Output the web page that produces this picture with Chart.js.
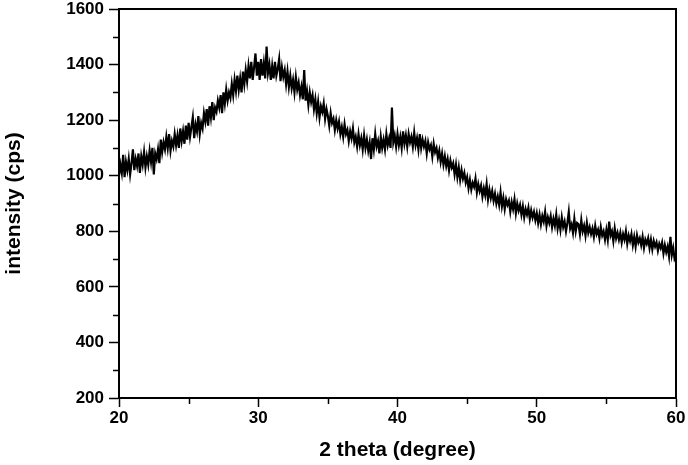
<!DOCTYPE html>
<html>
<head>
<meta charset="utf-8">
<script src="https://cdn.jsdelivr.net/npm/chart.js@4/dist/chart.umd.min.js"></script>
<style>
  body { margin: 0; background: #fff; }
</style>
</head>
<body>
<canvas id="xrd" width="688" height="465"></canvas>
<script>
// 2 theta grid: 20.0 .. 60.0, one reading every 0.1 degree
var thetaStart = 20;
var thetaStep = 0.1;

// intensity (cps), one row per degree
var intensity = [
  1000, 1040, 1010, 1075, 995, 1050, 1020, 1060, 1005, 1045,   // 20
  1095, 1020, 1060, 1035, 1080, 1010, 1070, 1040, 1085, 1030,  // 21
  1070, 1040, 1090, 1050, 1100, 1005, 1080, 1060, 1095, 1045,  // 22
  1130, 1085, 1120, 1095, 1140, 1100, 1150, 1090, 1125, 1105,  // 23
  1150, 1110, 1145, 1100, 1170, 1125, 1160, 1115, 1180, 1130,  // 24
  1190, 1140, 1175, 1210, 1135, 1185, 1160, 1215, 1150, 1190,  // 25
  1170, 1225, 1195, 1240, 1180, 1250, 1210, 1265, 1200, 1245,  // 26
  1230, 1270, 1245, 1290, 1225, 1300, 1260, 1310, 1270, 1300,  // 27
  1280, 1330, 1290, 1345, 1305, 1360, 1310, 1350, 1300, 1375,  // 28
  1330, 1380, 1340, 1395, 1350, 1410, 1345, 1390, 1440, 1360,  // 29
  1410, 1345, 1420, 1360, 1405, 1350, 1465, 1370, 1400, 1345,  // 30
  1395, 1350, 1410, 1360, 1385, 1420, 1340, 1390, 1355, 1380,  // 31
  1330, 1375, 1320, 1360, 1315, 1345, 1300, 1355, 1310, 1335,  // 32
  1290, 1320, 1275, 1380, 1270, 1305, 1255, 1300, 1265, 1290,  // 33
  1240, 1275, 1225, 1265, 1210, 1250, 1230, 1260, 1205, 1240,  // 34
  1215, 1180, 1225, 1190, 1205, 1165, 1200, 1170, 1195, 1150,  // 35
  1175, 1140, 1185, 1150, 1165, 1125, 1160, 1135, 1170, 1120,  // 36
  1140, 1105, 1150, 1110, 1135, 1095, 1145, 1100, 1130, 1090,  // 37
  1120, 1060, 1135, 1095, 1150, 1105, 1125, 1080, 1140, 1100,  // 38
  1130, 1095, 1150, 1110, 1135, 1100, 1245, 1120, 1145, 1105,  // 39
  1150, 1110, 1140, 1100, 1160, 1115, 1145, 1105, 1150, 1120,  // 40
  1140, 1105, 1155, 1110, 1135, 1095, 1150, 1100, 1130, 1105,  // 41
  1125, 1080, 1120, 1095, 1110, 1070, 1115, 1085, 1100, 1065,  // 42
  1090, 1050, 1080, 1040, 1070, 1035, 1060, 1020, 1055, 1030,  // 43
  1045, 1005, 1040, 995, 1030, 985, 1020, 990, 1010, 975,      // 44
  995, 955, 985, 950, 975, 960, 990, 940, 970, 945,            // 45
  965, 925, 955, 930, 970, 915, 950, 920, 945, 910,            // 46
  935, 900, 925, 895, 940, 890, 920, 880, 915, 895,            // 47
  910, 870, 905, 880, 915, 865, 900, 875, 895, 860,            // 48
  890, 850, 880, 860, 885, 845, 875, 850, 870, 840,            // 49
  865, 830, 860, 825, 855, 835, 870, 820, 850, 830,            // 50
  855, 815, 845, 820, 860, 810, 840, 805, 850, 815,            // 51
  835, 800, 830, 870, 810, 825, 795, 845, 800, 830,            // 52
  825, 790, 840, 800, 820, 785, 830, 795, 815, 790,            // 53
  810, 780, 820, 790, 805, 775, 815, 785, 800, 770,            // 54
  805, 770, 835, 785, 800, 765, 810, 775, 795, 770,            // 55
  795, 760, 790, 770, 800, 755, 785, 765, 790, 750,            // 56
  780, 745, 785, 760, 775, 750, 780, 740, 770, 755,            // 57
  775, 740, 770, 735, 765, 745, 760, 730, 755, 740,            // 58
  760, 720, 750, 725, 745, 710, 780, 715, 740, 700,            // 59
  710                                                          // 60
];

var xTicks = [20, 30, 40, 50, 60];
var yTicks = [200, 400, 600, 800, 1000, 1200, 1400, 1600];

var points = intensity.map(function (v, i) {
  return { x: +(thetaStart + i * thetaStep).toFixed(1), y: v };
});

var FONT = '"Liberation Sans", Arial, sans-serif';

// minor ticks (between the labelled ones) + closed frame on top/right
var framePlugin = {
  id: 'frame',
  afterDraw: function (chart) {
    var ctx = chart.ctx;
    var a = chart.chartArea;
    var xs = chart.scales.x, ys = chart.scales.y;
    ctx.save();
    ctx.strokeStyle = '#000';
    ctx.lineWidth = 2;
    ctx.beginPath();
    ctx.moveTo(a.left, a.top);
    ctx.lineTo(a.right, a.top);
    ctx.lineTo(a.right, a.bottom);
    ctx.stroke();

    ctx.lineWidth = 1.5;
    ctx.beginPath();
    for (var i = 0; i < xTicks.length - 1; i++) {
      var px = Math.round(xs.getPixelForValue((xTicks[i] + xTicks[i + 1]) / 2)) + 0.5;
      ctx.moveTo(px, a.bottom);
      ctx.lineTo(px, a.bottom + 6);
    }
    for (var j = 0; j < yTicks.length - 1; j++) {
      var py = Math.round(ys.getPixelForValue((yTicks[j] + yTicks[j + 1]) / 2)) + 0.5;
      ctx.moveTo(a.left, py);
      ctx.lineTo(a.left - 6, py);
    }
    ctx.stroke();
    ctx.restore();
  }
};

new Chart(document.getElementById('xrd').getContext('2d'), {
  type: 'line',
  data: {
    datasets: [{
      data: points,
      borderColor: '#000',
      borderWidth: 2.2,
      pointRadius: 0,
      tension: 0,
      fill: false
    }]
  },
  options: {
    responsive: false,
    animation: false,
    layout: { padding: { top: 9, right: 12, left: 0, bottom: 0 } },
    plugins: {
      legend: { display: false },
      tooltip: { enabled: false }
    },
    scales: {
      x: {
        type: 'linear',
        min: 20,
        max: 60,
        afterBuildTicks: function (scale) {
          scale.ticks = xTicks.map(function (v) { return { value: v }; });
        },
        afterFit: function (scale) { scale.height = 67; },
        grid: {
          drawOnChartArea: false,
          drawTicks: true,
          tickLength: 9,
          tickColor: '#000',
          tickWidth: 1.5
        },
        border: { color: '#000', width: 2 },
        ticks: {
          color: '#000',
          padding: 1,
          maxRotation: 0,
          callback: function (v) { return String(v); },
          font: { family: FONT, size: 17, weight: 'bold' }
        },
        title: {
          display: true,
          text: '2 theta (degree)',
          color: '#000',
          padding: { top: 0, bottom: 2 },
          font: { family: FONT, size: 21, weight: 'bold' }
        }
      },
      y: {
        min: 200,
        max: 1600,
        afterBuildTicks: function (scale) {
          scale.ticks = yTicks.map(function (v) { return { value: v }; });
        },
        afterFit: function (scale) {
          scale.width = 119;
          // let the 1600 label hang above the frame like in the original
          scale.paddingTop = 0;
          scale.paddingBottom = 0;
        },
        grid: {
          drawOnChartArea: false,
          drawTicks: true,
          tickLength: 10,
          tickColor: '#000',
          tickWidth: 1.5
        },
        border: { color: '#000', width: 2 },
        ticks: {
          color: '#000',
          padding: 5,
          callback: function (v) { return String(v); },
          font: { family: FONT, size: 17, weight: 'bold' }
        },
        title: {
          display: true,
          text: 'intensity (cps)',
          color: '#000',
          padding: { top: 2, bottom: 0 },
          font: { family: FONT, size: 21, weight: 'bold' }
        }
      }
    }
  },
  plugins: [framePlugin]
});
</script>
</body>
</html>
